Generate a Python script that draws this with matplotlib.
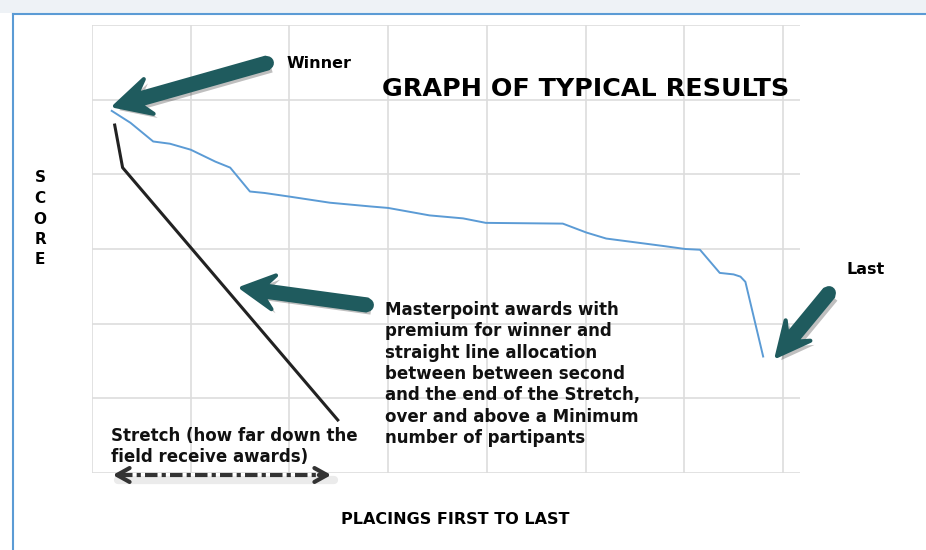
import numpy as np
import matplotlib.pyplot as plt
import matplotlib.patheffects as pe
from matplotlib.patches import FancyArrow, Rectangle

# score curve (grid units: 7 columns x 6 rows)
place_x = [0.20, 0.39, 0.62, 0.79, 1.00, 1.25, 1.40, 1.60, 1.75, 2.01, 2.41,
           2.82, 3.00, 3.42, 3.76, 3.99, 4.77, 5.01, 5.21, 5.79, 6.01, 6.16,
           6.36, 6.50, 6.57, 6.62, 6.80]
score_y = [4.85, 4.69, 4.44, 4.41, 4.33, 4.17, 4.09, 3.77, 3.75, 3.70, 3.62,
           3.57, 3.55, 3.45, 3.41, 3.35, 3.34, 3.22, 3.14, 3.04, 3.00, 2.99,
           2.68, 2.66, 2.63, 2.56, 1.56]

# masterpoint allocation line
award_x = [0.23, 0.31, 2.49]
award_y = [4.66, 4.09, 0.71]

masterpoint_text = ("Masterpoint awards with\npremium for winner and\n"
                    "straight line allocation\nbetween between second\n"
                    "and the end of the Stretch,\nover and above a Minimum\n"
                    "number of partipants")

teal = '#1f5b5e'
shadow = [pe.withSimplePatchShadow(offset=(3, -3), shadow_rgbFace='black', alpha=0.25)]

fig = plt.figure(figsize=(9.26, 5.5), dpi=100)
plt.rcParams['font.family'] = ['DejaVu Sans']

ax = fig.add_axes([92 / 926, 1 - 473 / 550, 708 / 926, 448 / 550])
ax.set_xlim(0, 708 / 98.7)
ax.set_ylim(0, 6)
for v in range(8):
    ax.axvline(v, color='#dddddd', lw=1.2, zorder=0)
for h in range(7):
    ax.axhline(h, color='#dddddd', lw=1.2, zorder=0)
for s in ax.spines.values():
    s.set_visible(False)
ax.set_xticks([])
ax.set_yticks([])

ax.plot(place_x, score_y, color='#5b9bd5', lw=1.4, solid_joinstyle='round')
ax.plot(award_x, award_y, color='#222222', lw=2.2)

# overlay in pixel coords for annotations
ov = fig.add_axes([0, 0, 1, 1])
ov.set_xlim(0, 926)
ov.set_ylim(550, 0)
ov.axis('off')
ov.patch.set_visible(False)

ov.add_patch(Rectangle((0, 0), 926, 13, color='#eef2f6', lw=0))
ov.plot([13, 926], [14, 14], color='#5b9bd5', lw=1.5)
ov.plot([13, 13], [14, 550], color='#5b9bd5', lw=1.5)


def big_arrow(tail, tip, head_w, head_l):
    a = FancyArrow(tail[0], tail[1], tip[0] - tail[0], tip[1] - tail[1],
                   width=11, head_width=head_w, head_length=head_l,
                   length_includes_head=True, overhang=0.3,
                   facecolor=teal, edgecolor=teal, lw=3, joinstyle='round',
                   path_effects=shadow)
    ov.add_patch(a)
    # rounded tail end
    dx, dy = tip[0] - tail[0], tip[1] - tail[1]
    ov.plot([tail[0], tail[0] + dx * 0.05], [tail[1], tail[1] + dy * 0.05],
            color=teal, lw=10, solid_capstyle='round')


big_arrow((267, 63), (115, 106), 36, 35)
big_arrow((367, 305), (242, 288), 34, 32)
big_arrow((829, 293), (777, 356), 32, 33)

ov.text(287, 63, 'Winner', fontsize=11.5, fontweight='bold', va='center')
ov.text(382, 89, 'GRAPH OF TYPICAL RESULTS', fontsize=18.3, fontweight='bold', va='center')
ov.text(846, 269, 'Last', fontsize=11.5, fontweight='bold', va='center')
ov.text(385, 301, masterpoint_text, fontsize=12, fontweight='bold', va='top',
        linespacing=1.24, color='#111111')
ov.text(111, 427, 'Stretch (how far down the\nfield receive awards)', fontsize=12,
        fontweight='bold', va='top', linespacing=1.24, color='#111111')
ov.text(455, 519, 'PLACINGS FIRST TO LAST', fontsize=11.5, fontweight='bold',
        ha='center', va='center')
for i, ch in enumerate('SCORE'):
    ov.text(40, 178 + i * 20.5, ch, fontsize=11, fontweight='bold',
            ha='center', va='center')

# stretch double arrow with soft shadow
ov.plot([118, 334], [480, 480], color='black', lw=6, alpha=0.08, solid_capstyle='round')
ov.plot([120, 322], [475, 475], color='#333333', lw=3, linestyle=(0, (3, 1, 1, 1)))
ov.annotate('', xy=(110, 475), xytext=(128, 475),
            arrowprops=dict(arrowstyle='->,head_length=0.9,head_width=0.5', lw=3, color='#333333'))
ov.annotate('', xy=(334, 475), xytext=(316, 475),
            arrowprops=dict(arrowstyle='->,head_length=0.9,head_width=0.5', lw=3, color='#333333'))

fig.savefig('out.png', dpi=100)
